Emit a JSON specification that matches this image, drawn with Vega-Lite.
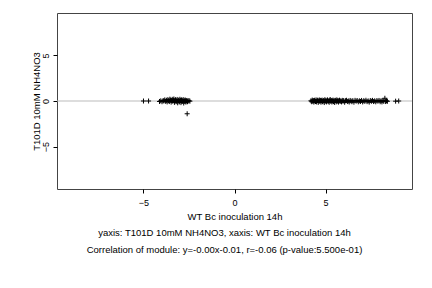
{
  "$schema": "https://vega.github.io/schema/vega-lite/v6.json",
  "width": 355,
  "height": 176,
  "autosize": "none",
  "padding": {"left": 57, "top": 13, "right": 20, "bottom": 99},
  "background": "white",
  "config": {
    "font": "Liberation Sans",
    "view": {"stroke": "#444", "strokeWidth": 1},
    "axis": {"grid": false, "domain": false, "tickColor": "#000", "tickSize": 4, "labelFont": "Liberation Sans", "titleFont": "Liberation Sans", "labelFontSize": 9, "titleFontSize": 9.5, "labelColor": "#000", "titleColor": "#000", "titleFontWeight": "normal"}
  },
  "title": {
    "text": ["yaxis: T101D 10mM NH4NO3, xaxis: WT Bc inoculation 14h", "Correlation of module: y=-0.00x-0.01, r=-0.06 (p-value:5.500e-01)"],
    "orient": "bottom",
    "anchor": "middle",
    "fontSize": 9.5,
    "fontWeight": "normal",
    "font": "Liberation Sans",
    "color": "#000",
    "lineHeight": 17,
    "offset": 7,
    "dx": -10
  },
  "datasets": {
    "pts": [
      {"x": -5.0, "y": 0.0}, {"x": -4.72, "y": 0.0}, {"x": -4.12, "y": -0.05}, {"x": -4.05, "y": 0.02}, {"x": -3.98, "y": -0.08}, {"x": -3.92, "y": 0.05}, {"x": -3.88, "y": 0.0}, {"x": -3.83, "y": 0.12}, {"x": -3.78, "y": -0.04}, {"x": -3.74, "y": 0.08}, {"x": -3.7, "y": -0.1}, {"x": -3.66, "y": 0.15}, {"x": -3.62, "y": 0.03}, {"x": -3.58, "y": -0.06}, {"x": -3.55, "y": 0.2}, {"x": -3.51, "y": 0.1}, {"x": -3.48, "y": -0.12}, {"x": -3.45, "y": 0.05}, {"x": -3.42, "y": 0.18}, {"x": -3.39, "y": -0.03}, {"x": -3.36, "y": 0.09}, {"x": -3.33, "y": 0.22}, {"x": -3.3, "y": -0.15}, {"x": -3.27, "y": 0.06}, {"x": -3.24, "y": 0.14}, {"x": -3.21, "y": -0.08}, {"x": -3.18, "y": 0.02}, {"x": -3.15, "y": 0.17}, {"x": -3.12, "y": -0.2}, {"x": -3.09, "y": 0.1}, {"x": -3.06, "y": 0.04}, {"x": -3.03, "y": -0.1}, {"x": -3.0, "y": 0.19}, {"x": -2.97, "y": 0.07}, {"x": -2.94, "y": -0.18}, {"x": -2.91, "y": 0.12}, {"x": -2.88, "y": -0.05}, {"x": -2.85, "y": 0.03}, {"x": -2.82, "y": 0.15}, {"x": -2.79, "y": -0.22}, {"x": -2.76, "y": 0.08}, {"x": -2.73, "y": -0.04}, {"x": -2.7, "y": 0.1}, {"x": -2.67, "y": -0.12}, {"x": -2.64, "y": 0.02}, {"x": -2.61, "y": 0.06}, {"x": -2.58, "y": -0.08}, {"x": -2.55, "y": 0.0}, {"x": -2.5, "y": 0.04}, {"x": -2.45, "y": -0.02}, {"x": -2.6, "y": -1.4},
      {"x": 4.2, "y": 0.02}, {"x": 4.24, "y": -0.08}, {"x": 4.27, "y": 0.1}, {"x": 4.3, "y": -0.03}, {"x": 4.33, "y": 0.05}, {"x": 4.36, "y": -0.12}, {"x": 4.39, "y": 0.08}, {"x": 4.42, "y": 0.0}, {"x": 4.45, "y": -0.06}, {"x": 4.48, "y": 0.12}, {"x": 4.51, "y": -0.1}, {"x": 4.54, "y": 0.04}, {"x": 4.57, "y": 0.09}, {"x": 4.6, "y": -0.15}, {"x": 4.63, "y": 0.02}, {"x": 4.66, "y": 0.11}, {"x": 4.69, "y": -0.05}, {"x": 4.72, "y": 0.07}, {"x": 4.75, "y": -0.13}, {"x": 4.78, "y": 0.03}, {"x": 4.81, "y": 0.1}, {"x": 4.84, "y": -0.08}, {"x": 4.87, "y": 0.0}, {"x": 4.9, "y": 0.06}, {"x": 4.93, "y": -0.17}, {"x": 4.96, "y": 0.13}, {"x": 4.99, "y": -0.02}, {"x": 5.02, "y": 0.08}, {"x": 5.05, "y": -0.1}, {"x": 5.08, "y": 0.04}, {"x": 5.11, "y": 0.12}, {"x": 5.14, "y": -0.06}, {"x": 5.17, "y": 0.02}, {"x": 5.2, "y": -0.14}, {"x": 5.23, "y": 0.09}, {"x": 5.26, "y": 0.15}, {"x": 5.29, "y": -0.04}, {"x": 5.32, "y": 0.06}, {"x": 5.35, "y": -0.11}, {"x": 5.38, "y": 0.01}, {"x": 5.41, "y": 0.1}, {"x": 5.44, "y": -0.07}, {"x": 5.47, "y": 0.05}, {"x": 5.5, "y": -0.16}, {"x": 5.53, "y": 0.08}, {"x": 5.56, "y": 0.03}, {"x": 5.59, "y": -0.09}, {"x": 5.62, "y": 0.12}, {"x": 5.65, "y": -0.02}, {"x": 5.68, "y": 0.06}, {"x": 5.71, "y": -0.12}, {"x": 5.74, "y": 0.04}, {"x": 5.77, "y": 0.09}, {"x": 5.8, "y": -0.05}, {"x": 5.84, "y": 0.02}, {"x": 5.88, "y": -0.1}, {"x": 5.92, "y": 0.07}, {"x": 5.96, "y": -0.03}, {"x": 6.0, "y": 0.05}, {"x": 6.05, "y": -0.14}, {"x": 6.1, "y": 0.03}, {"x": 6.15, "y": 0.08}, {"x": 6.2, "y": -0.06}, {"x": 6.25, "y": 0.01}, {"x": 6.3, "y": -0.11}, {"x": 6.35, "y": 0.06}, {"x": 6.4, "y": 0.0}, {"x": 6.45, "y": -0.08}, {"x": 6.5, "y": 0.04}, {"x": 6.56, "y": -0.13}, {"x": 6.62, "y": 0.07}, {"x": 6.68, "y": -0.02}, {"x": 6.74, "y": 0.05}, {"x": 6.8, "y": -0.09}, {"x": 6.86, "y": 0.02}, {"x": 6.92, "y": -0.05}, {"x": 6.98, "y": 0.06}, {"x": 7.04, "y": -0.1}, {"x": 7.1, "y": 0.03}, {"x": 7.16, "y": -0.04}, {"x": 7.22, "y": 0.08}, {"x": 7.28, "y": -0.07}, {"x": 7.34, "y": 0.01}, {"x": 7.4, "y": -0.12}, {"x": 7.46, "y": 0.05}, {"x": 7.52, "y": -0.03}, {"x": 7.58, "y": 0.07}, {"x": 7.64, "y": -0.06}, {"x": 7.7, "y": 0.02}, {"x": 7.76, "y": -0.09}, {"x": 7.82, "y": 0.04}, {"x": 7.88, "y": -0.02}, {"x": 7.94, "y": 0.06}, {"x": 8.0, "y": -0.08}, {"x": 8.05, "y": 0.03}, {"x": 8.1, "y": -0.1}, {"x": 8.15, "y": 0.05}, {"x": 8.2, "y": -0.04}, {"x": 8.26, "y": 0.3}, {"x": 8.3, "y": -0.06}, {"x": 8.35, "y": 0.02}, {"x": 8.4, "y": -0.03}, {"x": 8.85, "y": -0.02}, {"x": 9.02, "y": 0.0}
    ],
    "zero": [{"y": 0}]
  },
  "layer": [
    {
      "data": {"name": "zero"},
      "mark": {"type": "rule", "color": "#bbbbbb", "strokeWidth": 1},
      "encoding": {"y": {"field": "y", "type": "quantitative"}}
    },
    {
      "data": {"name": "pts"},
      "mark": {"type": "point", "shape": "M-1,0L1,0M0,-1L0,1", "filled": false, "stroke": "#000", "strokeWidth": 1, "size": 25, "opacity": 1},
      "encoding": {
        "x": {"field": "x", "type": "quantitative", "scale": {"domain": [-9.75, 9.75], "nice": false, "zero": false}, "axis": {"values": [-5, 0, 5], "title": "WT Bc inoculation 14h", "labelPadding": 5, "titlePadding": 4}},
        "y": {"field": "y", "type": "quantitative", "scale": {"domain": [-9.65, 9.65], "nice": false, "zero": false}, "axis": {"values": [-5, 0, 5], "title": "T101D 10mM NH4NO3", "labelAngle": -90, "labelAlign": "center", "labelBaseline": "bottom", "labelPadding": 3, "titlePadding": 0}}
      }
    }
  ]
}
